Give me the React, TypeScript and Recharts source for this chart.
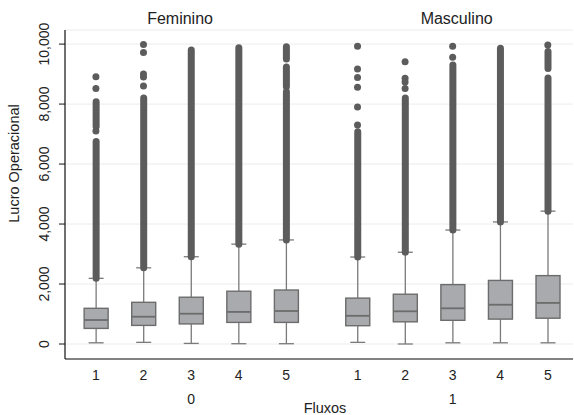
import React from 'react';
import { ComposedChart, Bar, Scatter, XAxis, YAxis, CartesianGrid } from 'recharts';

// ---------- data ----------
const groupLabels = ['0', '1'];
const groupTitles = ['Feminino', 'Masculino'];
const fluxoLabels = ['1', '2', '3', '4', '5', '1', '2', '3', '4', '5'];
const boxPositions = [1, 2, 3, 4, 5, 6.5, 7.5, 8.5, 9.5, 10.5];
const groupCenters = [3, 8.5];
const yTicks = [0, 2000, 4000, 6000, 8000, 10000];

const whiskerLow = [40, 55, 20, 10, 10, 55, 0, 40, 40, 40];
const q1 = [520, 620, 670, 720, 720, 610, 740, 790, 830, 860];
const median = [800, 910, 1010, 1070, 1100, 940, 1090, 1190, 1310, 1370];
const q3 = [1190, 1390, 1560, 1760, 1800, 1530, 1660, 1980, 2120, 2280];
const whiskerHigh = [2190, 2540, 2910, 3330, 3470, 2900, 3060, 3800, 4070, 4430];

// dense runs of overlapping outliers [from, to]
const outlierBands: [number, number][][] = [
  [[2190, 6750], [7250, 8080]],
  [[2540, 8200]],
  [[2910, 9800]],
  [[3330, 9880]],
  [[3470, 8410], [8580, 9240], [9500, 9910]],
  [[2900, 7080]],
  [[3060, 8200]],
  [[3800, 9300]],
  [[4070, 9860]],
  [[4430, 8870], [9190, 9750]],
];
// isolated outliers
const outlierDots: number[][] = [
  [7100, 8520, 8910],
  [8600, 8900, 9000, 9720, 9990],
  [],
  [],
  [],
  [7300, 7900, 8560, 8890, 9170, 9930],
  [8520, 8740, 8860, 9410],
  [9560, 9930],
  [],
  [9970],
];

// ---------- tables for the library ----------
const boxData = boxPositions.map((x, i) => ({
  x,
  range: [q1[i], q3[i]],
  q1: q1[i],
  median: median[i],
  q3: q3[i],
  whiskerLow: whiskerLow[i],
  whiskerHigh: whiskerHigh[i],
  bands: outlierBands[i],
}));

const dotData = boxPositions.flatMap((x, i) => outlierDots[i].map((y) => ({ x, y })));

// ---------- styles ----------
const FONT = '"Liberation Sans", Arial, sans-serif';
const TEXT = '#222';
const BOX_FILL = '#a9aaae';
const BOX_STROKE = '#6c6c6c';
const WHISKER = '#7a7a7a';
const OUTLIER = '#5c5c5c';
const DOT_R = 3.5;
const CAP_W = 15;
const TITLE_DX = [-11, 4];

const BoxShape = (props: any) => {
  const { x, y, width, height, payload } = props;
  if (payload == null || height == null) return null;
  const cx = x + width / 2;
  const ppu = height / (payload.q3 - payload.q1);
  const py = (v: number) => y + (payload.q3 - v) * ppu;
  const yWL = py(payload.whiskerLow);
  const yWH = py(payload.whiskerHigh);
  const yQ1 = py(payload.q1);
  const yQ3 = py(payload.q3);
  const yMed = py(payload.median);
  return (
    <g>
      <line x1={cx} x2={cx} y1={yQ1} y2={yWL} stroke={WHISKER} strokeWidth={1.3} />
      <line x1={cx} x2={cx} y1={yQ3} y2={yWH} stroke={WHISKER} strokeWidth={1.3} />
      <line x1={cx - CAP_W / 2} x2={cx + CAP_W / 2} y1={yWL} y2={yWL} stroke={WHISKER} strokeWidth={1.3} />
      <line x1={cx - CAP_W / 2} x2={cx + CAP_W / 2} y1={yWH} y2={yWH} stroke={WHISKER} strokeWidth={1.3} />
      <rect x={x} y={yQ3} width={width} height={yQ1 - yQ3} fill={BOX_FILL} stroke={BOX_STROKE} strokeWidth={1.4} />
      <line x1={x} x2={x + width} y1={yMed} y2={yMed} stroke={BOX_STROKE} strokeWidth={1.8} />
      {payload.bands.map((b: [number, number], k: number) => {
        const top = py(b[1]) - DOT_R;
        const bottom = py(b[0]) + DOT_R;
        return (
          <rect
            key={k}
            x={cx - DOT_R}
            y={top}
            width={DOT_R * 2}
            height={bottom - top}
            rx={DOT_R}
            ry={DOT_R}
            fill={OUTLIER}
          />
        );
      })}
    </g>
  );
};

const DotShape = (props: any) => {
  const { cx, cy } = props;
  if (cx == null || cy == null) return null;
  return <circle cx={cx} cy={cy} r={DOT_R} fill={OUTLIER} />;
};

const XTick = (props: any) => {
  const { x, y, payload } = props;
  const idx = boxPositions.indexOf(payload.value);
  const g = groupCenters.indexOf(payload.value);
  return (
    <g>
      <text x={x} y={y + 21} textAnchor="middle" fontSize={14} fontFamily={FONT} fill={TEXT}>
        {fluxoLabels[idx]}
      </text>
      {g >= 0 && (
        <text x={x} y={y + 45} textAnchor="middle" fontSize={14} fontFamily={FONT} fill={TEXT}>
          {groupLabels[g]}
        </text>
      )}
      {g >= 0 && (
        <text x={x + TITLE_DX[g]} y={y - 335} textAnchor="middle" fontSize={16} fontFamily={FONT} fill={TEXT}>
          {groupTitles[g]}
        </text>
      )}
    </g>
  );
};

const YTick = (props: any) => {
  const { x, y, payload } = props;
  return (
    <text
      x={x}
      y={y}
      transform={`rotate(-90, ${x}, ${y})`}
      textAnchor="middle"
      fontSize={14}
      fontFamily={FONT}
      fill={TEXT}
    >
      {Number(payload.value).toLocaleString('en-US')}
    </text>
  );
};

const YLabel = (props: any) => {
  const vb = props.viewBox || { x: 0, y: 0, width: 0, height: 0 };
  const lx = vb.x + 19;
  const ly = vb.y + vb.height / 2 - 31;
  return (
    <text
      x={lx}
      y={ly}
      transform={`rotate(-90, ${lx}, ${ly})`}
      textAnchor="middle"
      fontSize={14.5}
      fontFamily={FONT}
      fill={TEXT}
    >
      Lucro Operacional
    </text>
  );
};

const XLabel = (props: any) => {
  const vb = props.viewBox || { x: 0, y: 0, width: 0, height: 0 };
  return (
    <text
      x={vb.x + vb.width / 2 + 6}
      y={vb.y + vb.height - 2}
      textAnchor="middle"
      fontSize={14.5}
      fontFamily={FONT}
      fill={TEXT}
    >
      Fluxos
    </text>
  );
};

export default function App() {
  return (
    <div style={{ position: 'absolute', left: 0, top: 0, width: 574, height: 415, background: '#fff' }}>
      <ComposedChart
        width={574}
        height={415}
        data={boxData}
        margin={{ top: 30, right: 1, bottom: 0, left: 0 }}
      >
        <CartesianGrid vertical={false} stroke="#ececec" strokeWidth={1} xAxisId="main" />
        <XAxis
          xAxisId="main"
          dataKey="x"
          type="number"
          domain={[0.35, 11.03]}
          ticks={boxPositions}
          allowDataOverflow
          height={56}
          tickLine={false}
          tickSize={0}
          tickMargin={0}
          axisLine={{ stroke: '#111', strokeWidth: 1.2 }}
          tick={<XTick />}
          interval={0}
          label={{ content: XLabel }}
        />
        <YAxis
          type="number"
          domain={[-500, 10470]}
          ticks={yTicks}
          allowDataOverflow
          width={65}
          tickSize={6}
          tickMargin={10}
          tickLine={{ stroke: '#111', strokeWidth: 1 }}
          axisLine={{ stroke: '#111', strokeWidth: 1.2 }}
          tick={<YTick />}
          interval={0}
          label={{ content: YLabel }}
        />
        <Bar
          xAxisId="main"
          dataKey="range"
          barSize={24}
          shape={<BoxShape />}
          isAnimationActive={false}
        />
        <Scatter
          xAxisId="main"
          data={dotData}
          dataKey="y"
          shape={<DotShape />}
          isAnimationActive={false}
        />
      </ComposedChart>
    </div>
  );
}
